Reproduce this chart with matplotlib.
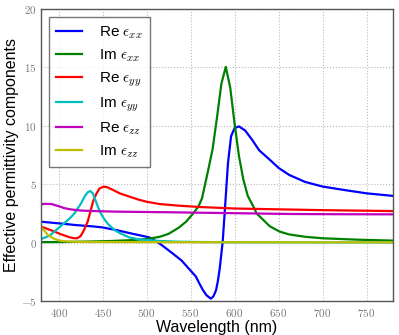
import matplotlib
matplotlib.use("Agg")
import matplotlib.pyplot as plt
from matplotlib.ticker import FuncFormatter

plt.rcParams['font.family'] = ['Liberation Sans', 'DejaVu Sans']
plt.rcParams['mathtext.fontset'] = 'cm'

# Re eps_xx
wl_rexx = [380, 400, 420, 440, 450, 467, 485, 503, 511, 517, 530, 540, 550, 556, 560, 564, 568, 573,
           576, 579, 581, 583, 586.5, 589.5, 592.5, 596, 600, 605, 612, 620, 628, 640, 650, 662, 680,
           700, 725, 750, 780]
re_xx = [1.79, 1.65, 1.5, 1.38, 1.3, 1.05, 0.74, 0.45, 0.1, -0.2, -0.95, -1.55, -2.4, -2.9, -3.5, -4.06,
         -4.5, -4.8, -4.6, -4.06, -3.3, -2.3, 0.07, 3.4, 6.8, 9.1, 9.8, 9.95, 9.6, 8.8, 7.9, 7.1, 6.4,
         5.8, 5.2, 4.8, 4.5, 4.22, 4.0]

# Im eps_xx
wl_imxx = [380, 400, 420, 440, 460, 480, 500, 515, 525, 537, 545, 553, 559, 563, 570, 575, 580, 585,
           590, 595, 600, 605, 610, 615, 622, 625, 640, 651, 662, 680, 700, 740, 780]
im_xx = [0.04, 0.05, 0.07, 0.1, 0.14, 0.2, 0.3, 0.5, 0.75, 1.3, 1.8, 2.5, 3.1, 3.8, 6.2, 8.0, 10.7,
         13.6, 15.05, 13.3, 10.2, 7.4, 5.4, 4.0, 3.0, 2.5, 1.4, 0.95, 0.7, 0.5, 0.37, 0.25, 0.17]

# Re eps_yy
wl_reyy = [380, 390, 395, 403, 412, 417, 421, 425, 429, 433, 436, 439, 443, 446.5, 451, 455, 462, 470,
           480, 490, 500, 515, 537, 560, 600, 650, 700, 780]
re_yy = [1.37, 1.1, 0.95, 0.7, 0.47, 0.38, 0.37, 0.55, 1.1, 1.79, 2.6, 3.5, 4.2, 4.64, 4.79, 4.75,
         4.5, 4.2, 3.95, 3.7, 3.5, 3.3, 3.16, 3.05, 2.92, 2.85, 2.78, 2.7]

# Im eps_yy
wl_imyy = [380, 390, 399, 407, 413, 418, 425, 430, 433, 436, 439, 441, 445, 448, 452, 456, 464, 470,
           480, 490, 500, 515, 535, 560, 600, 700, 780]
im_yy = [0.3, 0.6, 1.2, 1.7, 2.1, 2.5, 3.3, 4.0, 4.3, 4.42, 4.2, 3.8, 3.0, 2.5, 2.0, 1.6, 1.05, 0.8,
         0.45, 0.3, 0.22, 0.14, 0.08, 0.05, 0.03, 0.02, 0.02]

# Re eps_zz
wl_rezz = [380, 385, 392, 400, 407, 415, 426, 440, 467, 500, 526, 560, 600, 662, 720, 780]
re_zz = [3.28, 3.32, 3.3, 3.12, 2.94, 2.83, 2.74, 2.7, 2.65, 2.62, 2.6, 2.56, 2.52, 2.45, 2.43, 2.42]

# Im eps_zz
wl_imzz = [380, 384, 388, 392, 396, 401, 410, 420, 440, 500, 600, 780]
im_zz = [1.35, 1.0, 0.65, 0.45, 0.3, 0.17, 0.1, 0.07, 0.05, 0.04, 0.03, 0.02]

xticks = [400, 450, 500, 550, 600, 650, 700, 750]
yticks = [-5, 0, 5, 10, 15, 20]

fig = plt.figure(figsize=(3.99, 3.35), dpi=100)
ax = fig.add_axes([0.1028, 0.1015, 0.882, 0.8715])

lw = 1.6
ax.plot(wl_rexx, re_xx, color='#0000ff', lw=lw, label=r'Re $\epsilon_{xx}$')
ax.plot(wl_imxx, im_xx, color='#008000', lw=lw, label=r'Im $\epsilon_{xx}$')
ax.plot(wl_reyy, re_yy, color='#ff0000', lw=lw, label=r'Re $\epsilon_{yy}$')
ax.plot(wl_imyy, im_yy, color='#00bfbf', lw=lw, label=r'Im $\epsilon_{yy}$')
ax.plot(wl_rezz, re_zz, color='#bf00bf', lw=lw, label=r'Re $\epsilon_{zz}$')
ax.plot(wl_imzz, im_zz, color='#bfbf00', lw=lw, label=r'Im $\epsilon_{zz}$')

ax.set_xlim(380, 780)
ax.set_ylim(-5, 20)
ax.set_xticks(xticks)
ax.set_yticks(yticks)
fmt = FuncFormatter(lambda v, p: r'$%d$' % v)
ax.xaxis.set_major_formatter(fmt)
ax.yaxis.set_major_formatter(fmt)
ax.tick_params(labelsize=8, labelcolor='#777777', length=0, pad=4)
ax.tick_params(axis='y', pad=3)
ax.grid(True, color='#bbbbbb', linestyle=':', linewidth=0.8)
for s in ax.spines.values():
    s.set_color('#555555')
    s.set_linewidth(1.0)

ax.set_xlabel('Wavelength (nm)', fontsize=11.5, labelpad=1)
ax.set_ylabel('Effective permittivity components', fontsize=11.5)
ax.yaxis.set_label_coords(-0.062, 0.5)

leg = ax.legend(loc='upper left', fontsize=11, borderaxespad=0.5, labelspacing=0.42,
                handlelength=1.7, handletextpad=1.1, fancybox=False, borderpad=0.5)
leg.get_frame().set_edgecolor('#555555')
leg.get_frame().set_linewidth(1.0)

fig.savefig('out.png', dpi=100)
